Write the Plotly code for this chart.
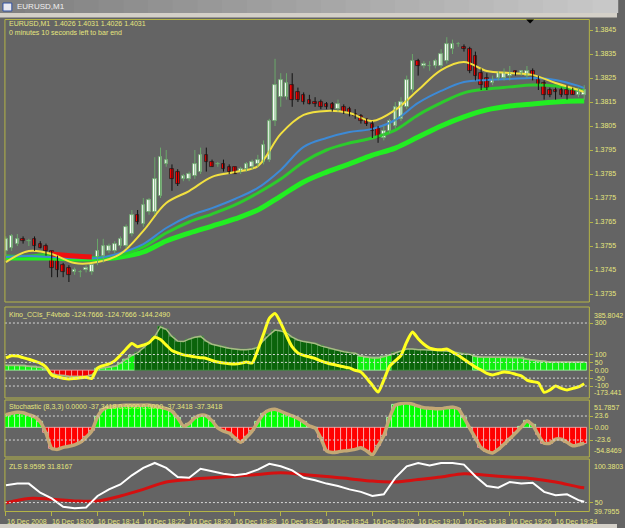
import plotly.graph_objects as go

W, H = 625, 528

# ---------------- data ----------------
bar_index = list(range(102))

time_tick_bars = [0, 8, 16, 24, 32, 40, 48, 56, 64, 72, 80, 88, 96]
time_tick_labels = ["16 Dec 2008", "16 Dec 18:06", "16 Dec 18:14", "16 Dec 18:22",
                    "16 Dec 18:30", "16 Dec 18:38", "16 Dec 18:46", "16 Dec 18:54",
                    "16 Dec 19:02", "16 Dec 19:10", "16 Dec 19:18", "16 Dec 19:26",
                    "16 Dec 19:34"]

price_tick_values = [1.3735, 1.3745, 1.3755, 1.3765, 1.3775, 1.3785,
                     1.3795, 1.3805, 1.3815, 1.3825, 1.3835, 1.3845]
price_tick_labels = ["1.3735", "1.3745", "1.3755", "1.3765", "1.3775", "1.3785",
                     "1.3795", "1.3805", "1.3815", "1.3825", "1.3835", "1.3845"]

candle_open = [1.3753, 1.3754, 1.3756, 1.3758, 1.3757, 1.3758, 1.3756, 1.3755, 1.3753, 1.3750,
               1.3747, 1.3746, 1.3744, 1.3744, 1.3745, 1.3744, 1.3748, 1.3751, 1.3753, 1.3753,
               1.3755, 1.3755, 1.3760, 1.3768, 1.3764, 1.3769, 1.3769, 1.3776, 1.3789, 1.3787,
               1.3786, 1.3783, 1.3783, 1.3784, 1.3786, 1.3793, 1.3790, 1.3789, 1.3789, 1.3788,
               1.3788, 1.3786, 1.3787, 1.3788, 1.3789, 1.3790, 1.3791, 1.3807, 1.3817, 1.3817,
               1.3822, 1.3819, 1.3818, 1.3816, 1.3815, 1.3815, 1.3814, 1.3814, 1.3812, 1.3813,
               1.3812, 1.3810, 1.3809, 1.3808, 1.3806, 1.3804, 1.3800, 1.3803, 1.3805, 1.3808,
               1.3813, 1.3820, 1.3832, 1.3830, 1.3830, 1.3830, 1.3830, 1.3832, 1.3837, 1.3839,
               1.3838, 1.3837, 1.3834, 1.3827, 1.3825, 1.3823, 1.3825, 1.3825, 1.3826, 1.3828,
               1.3827, 1.3826, 1.3828, 1.3825, 1.3823, 1.3820, 1.3820, 1.3820, 1.3820, 1.3820,
               1.3818, 1.3818]
candle_high = [1.3759, 1.3760, 1.3760, 1.3759, 1.3758, 1.3759, 1.3757, 1.3756, 1.3753, 1.3751,
               1.3748, 1.3747, 1.3746, 1.3745, 1.3747, 1.3747, 1.3758, 1.3758, 1.3756, 1.3757,
               1.3759, 1.3764, 1.3770, 1.3770, 1.3775, 1.3775, 1.3792, 1.3796, 1.3795, 1.3789,
               1.3787, 1.3785, 1.3786, 1.3795, 1.3796, 1.3796, 1.3791, 1.3790, 1.3791, 1.3789,
               1.3788, 1.3788, 1.3790, 1.3791, 1.3793, 1.3799, 1.3808, 1.3833, 1.3827, 1.3827,
               1.3827, 1.3821, 1.3819, 1.3818, 1.3817, 1.3816, 1.3815, 1.3815, 1.3816, 1.3814,
               1.3813, 1.3812, 1.3810, 1.3808, 1.3807, 1.3805, 1.3805, 1.3808, 1.3815, 1.3817,
               1.3826, 1.3835, 1.3833, 1.3832, 1.3832, 1.3833, 1.3837, 1.3842, 1.3841, 1.3840,
               1.3839, 1.3838, 1.3836, 1.3829, 1.3827, 1.3826, 1.3828, 1.3829, 1.3830, 1.3828,
               1.3828, 1.3830, 1.3829, 1.3826, 1.3824, 1.3821, 1.3821, 1.3821, 1.3822, 1.3821,
               1.3821, 1.3822]
candle_low = [1.3751, 1.3753, 1.3755, 1.3756, 1.3755, 1.3753, 1.3754, 1.3751, 1.3742, 1.3742,
              1.3742, 1.3740, 1.3743, 1.3742, 1.3744, 1.3743, 1.3747, 1.3748, 1.3752, 1.3752,
              1.3754, 1.3754, 1.3759, 1.3764, 1.3763, 1.3768, 1.3768, 1.3775, 1.3788, 1.3778,
              1.3780, 1.3782, 1.3782, 1.3783, 1.3785, 1.3786, 1.3788, 1.3788, 1.3786, 1.3785,
              1.3785, 1.3785, 1.3786, 1.3787, 1.3788, 1.3789, 1.3790, 1.3805, 1.3813, 1.3816,
              1.3813, 1.3815, 1.3814, 1.3814, 1.3813, 1.3812, 1.3812, 1.3811, 1.3811, 1.3810,
              1.3809, 1.3808, 1.3806, 1.3805, 1.3800, 1.3798, 1.3799, 1.3802, 1.3804, 1.3807,
              1.3812, 1.3819, 1.3826, 1.3829, 1.3828, 1.3829, 1.3829, 1.3831, 1.3835, 1.3838,
              1.3836, 1.3827, 1.3824, 1.3820, 1.3820, 1.3822, 1.3824, 1.3824, 1.3824, 1.3826,
              1.3826, 1.3825, 1.3824, 1.3820, 1.3816, 1.3817, 1.3816, 1.3817, 1.3816, 1.3818,
              1.3817, 1.3816]
candle_close = [1.3758, 1.3759, 1.3758, 1.3757, 1.3757, 1.3755, 1.3754, 1.3753, 1.3746, 1.3745,
                1.3744, 1.3743, 1.3745, 1.3744, 1.3746, 1.3747, 1.3753, 1.3755, 1.3755, 1.3756,
                1.3758, 1.3763, 1.3768, 1.3765, 1.3772, 1.3774, 1.3783, 1.3792, 1.3791, 1.3783,
                1.3781, 1.3784, 1.3785, 1.3789, 1.3793, 1.3790, 1.3788, 1.3789, 1.3787, 1.3786,
                1.3785, 1.3787, 1.3789, 1.3790, 1.3791, 1.3797, 1.3807, 1.3822, 1.3824, 1.3823,
                1.3816, 1.3816, 1.3815, 1.3814, 1.3814, 1.3813, 1.3813, 1.3812, 1.3814, 1.3811,
                1.3810, 1.3809, 1.3807, 1.3806, 1.3803, 1.3800, 1.3803, 1.3807, 1.3813, 1.3815,
                1.3824, 1.3832, 1.3830, 1.3831, 1.3830, 1.3832, 1.3835, 1.3839, 1.3839, 1.3839,
                1.3837, 1.3828, 1.3826, 1.3822, 1.3821, 1.3824, 1.3827, 1.3827, 1.3827, 1.3827,
                1.3828, 1.3828, 1.3826, 1.3822, 1.3818, 1.3818, 1.3819, 1.3818, 1.3818, 1.3818,
                1.3819, 1.3820]

ma_bars = [0, 4, 8, 12, 16, 20, 24, 28, 32, 36, 40, 44, 48, 52, 56, 60, 64, 68, 72, 76,
           80, 84, 88, 92, 96, 100, 101]
ma_yellow = [1.37483, 1.37529, 1.37517, 1.37479, 1.37483, 1.37517, 1.37613, 1.37729, 1.37779,
             1.37838, 1.37858, 1.37883, 1.38017, 1.38096, 1.38113, 1.38104, 1.38071, 1.38117,
             1.38200, 1.38283, 1.38317, 1.38279, 1.38271, 1.38263, 1.38229, 1.38200, 1.38192]
ma_blue = [1.37504, 1.37508, 1.37504, 1.37500, 1.37500, 1.37521, 1.37558, 1.37625, 1.37675,
           1.37708, 1.37746, 1.37792, 1.37867, 1.37963, 1.38000, 1.38025, 1.38038, 1.38075,
           1.38146, 1.38196, 1.38233, 1.38242, 1.38246, 1.38250, 1.38242, 1.38217, 1.38208]
ma_green = [1.37508, 1.37508, 1.37517, 1.37508, 1.37500, 1.37513, 1.37546, 1.37604, 1.37650,
            1.37683, 1.37721, 1.37771, 1.37829, 1.37900, 1.37950, 1.37979, 1.38000, 1.38033,
            1.38096, 1.38146, 1.38188, 1.38204, 1.38213, 1.38221, 1.38217, 1.38200, 1.38196]
ma_slow = [1.37500, 1.37500, 1.37500, 1.37496, 1.37496, 1.37504, 1.37525, 1.37571, 1.37604,
           1.37633, 1.37663, 1.37700, 1.37758, 1.37817, 1.37858, 1.37892, 1.37929, 1.37958,
           1.38004, 1.38050, 1.38088, 1.38117, 1.38133, 1.38142, 1.38150, 1.38154, 1.38154]
ma_slow_down_bars = [8, 12, 15]
ma_slow_down = [1.37517, 1.37508, 1.37504]

cci_hist = [30, 32, 30, 28, 25, 22, 18, 8, -20, -30,
            -35, -38, -40, -40, -38, -30, 10, 15, 20, 25,
            45, 70, 95, 110, 140, 175, 215, 275, 260, 215,
            185, 182, 198, 210, 215, 185, 165, 155, 148, 140,
            135, 130, 130, 135, 145, 190, 225, 255, 250, 237,
            210, 192, 182, 175, 170, 155, 145, 135, 125, 118,
            112, 108, 90, 82, 78, 78, 85, 97, 110, 120,
            135, 135, 130, 130, 128, 130, 128, 122, 117, 110,
            104, 101, 88, 84, 84, 84, 84, 84, 82, 82,
            80, 70, 65, 58, 55, 52, 52, 52, 52, 52,
            52, 52]
cci_line = [78, 92, 90, 80, 70, 58, 45, 21, -30, -42,
            -50, -55, -52, -48, -45, -52, 14, 30, 40, 60,
            95, 135, 170, 150, 160, 175, 210, 195, 160, 125,
            110, 98, 92, 85, 80, 75, 62, 52, 46, 42,
            40, 44, 52, 46, 130, 230, 330, 360, 300, 220,
            148, 110, 95, 85, 75, 60, 48, 38, 30, 22,
            15, 0, -11, -50, -95, -138, -62, 25, 60, 95,
            180, 243, 200, 165, 140, 132, 130, 135, 115, 95,
            70, 45, 20, 2, -20, -30, -20, -11, -15, -25,
            -35, -62, -72, -80, -140, -125, -100, -115, -125, -115,
            -106, -85]
cci_levels = [300, 100, 50, -50, -100]

stoch = [26, 29, 31, 30, 26, 22, 12, -10, -40, -42,
         -38, -36, -33, -28, -18, -6, 22, 37, 41, 43,
         44, 45, 45, 45, 45, 45, 43, 41, 38, 33,
         20, 4, 9, 20, 25, 24, 14, 0, -6, -10,
         -20, -28, -18, -6, 12, 28, 35, 37, 33, 28,
         24, 19, 12, 4, 0, -20, -45, -48, -47, -45,
         -44, -42, -39, -45, -53, -35, -15, 20, 45, 48,
         49, 47, 43, 40, 39, 38, 38, 40, 41, 38,
         20, 0, -20, -39, -46, -49, -42, -32, -21, -10,
         2, 14, 6, -14, -30, -30, -22, -22, -28, -35,
         -33, -30]
stoch_levels = [23.6, -23.6]

zls_white_bars = [0, 2, 4, 6, 8, 10, 12, 14, 16, 18, 20, 22, 24, 26, 28, 30, 32, 34, 36, 38,
                  40, 42, 44, 46, 48, 50, 52, 54, 56, 58, 60, 62, 64, 66, 68, 70, 72, 74, 76,
                  78, 80, 82, 84, 86, 88, 90, 92, 94, 96, 98, 100, 101]
zls_white = [71, 73, 73, 62, 55, 45, 43, 44, 58, 66, 72, 83, 92, 98, 92, 81, 80, 91, 88, 85,
             83, 85, 90, 97, 94, 89, 80, 77, 73, 70, 66, 63, 58, 60, 80, 94, 98, 95, 98,
             98, 96, 82, 70, 68, 75, 73, 74, 63, 59, 60, 53, 51]
zls_red = [49.5, 55, 54, 52, 52, 58, 66, 75, 78, 80, 82, 84, 86, 84, 81.5, 79, 76, 75, 78,
           81, 85, 83, 81, 79, 75, 69, 68]
zls_levels = [50]

# ---------------- style ----------------
BG = '#646464'
LINE = '#b4b446'
TXT = '#e6e67e'
FONT = 'Liberation Sans'


def fx(p):
    return p / W


def fy(p):
    return 1 - p / H


fig = go.Figure()

# main price panel: moving averages
fig.add_trace(go.Scatter(x=ma_bars, y=ma_slow, mode='lines', xaxis='x', yaxis='y',
                         line=dict(color='#22ee22', width=5, shape='spline'), hoverinfo='skip'))
fig.add_trace(go.Scatter(x=ma_bars, y=ma_green, mode='lines', xaxis='x', yaxis='y',
                         line=dict(color='#2ccc2c', width=3, shape='spline'), hoverinfo='skip'))
fig.add_trace(go.Scatter(x=ma_bars, y=ma_blue, mode='lines', xaxis='x', yaxis='y',
                         line=dict(color='#3d8ad6', width=2, shape='spline'), hoverinfo='skip'))
fig.add_trace(go.Scatter(x=ma_slow_down_bars, y=ma_slow_down, mode='lines', xaxis='x', yaxis='y',
                         line=dict(color='#ee1010', width=5, shape='spline'), hoverinfo='skip'))
fig.add_trace(go.Scatter(x=ma_bars, y=ma_yellow, mode='lines', xaxis='x', yaxis='y',
                         line=dict(color='#f2e040', width=2, shape='spline'), hoverinfo='skip'))

# candles: wicks then bodies
bull = [c >= o for o, c in zip(candle_open, candle_close)]
for is_bull, wick_col, fill_col, edge_col in [(True, '#6aa86a', '#ffffff', '#6aa86a'),
                                               (False, '#111111', '#ff0000', '#222222')]:
    wx, wy = [], []
    bx, bbase, bh = [], [], []
    for i in bar_index:
        if bull[i] != is_bull:
            continue
        wx += [i, i, None]
        wy += [candle_low[i], candle_high[i], None]
        bx.append(i)
        bbase.append(min(candle_open[i], candle_close[i]))
        bh.append(abs(candle_close[i] - candle_open[i]))
    fig.add_trace(go.Scatter(x=wx, y=wy, mode='lines', xaxis='x', yaxis='y',
                             line=dict(color=wick_col, width=1), hoverinfo='skip'))
    fig.add_trace(go.Bar(x=bx, y=bh, base=bbase, xaxis='x', yaxis='y', width=0.62,
                         marker=dict(color=fill_col, line=dict(color=edge_col, width=0.8)),
                         hoverinfo='skip'))

# CCI panel
cci_colors = ['#0a640a' if v > 100 else ('#10f010' if v >= 0 else '#f00000') for v in cci_hist]
cci_edges = ['#4e9a4e' if v > 100 else ('#b8ffb8' if v >= 0 else '#ffb0b0') for v in cci_hist]
fig.add_trace(go.Bar(x=bar_index, y=cci_hist, xaxis='x', yaxis='y2', width=1.0,
                     marker=dict(color=cci_colors, line=dict(color=cci_edges, width=0.7)),
                     hoverinfo='skip'))
fig.add_trace(go.Scatter(x=bar_index, y=cci_hist, mode='lines', xaxis='x', yaxis='y2',
                         line=dict(color='#a8bc84', width=1.5), hoverinfo='skip'))
fig.add_trace(go.Scatter(x=bar_index, y=cci_line, mode='lines', xaxis='x', yaxis='y2',
                         line=dict(color='#ffff20', width=3, shape='spline', smoothing=0.6),
                         hoverinfo='skip'))

# Stochastic panel
st_colors = ['#00ff00' if v >= 0 else '#ff0000' for v in stoch]
st_edges = ['#d8ffd8' if v >= 0 else '#ffc8c8' for v in stoch]
fig.add_trace(go.Bar(x=bar_index, y=stoch, xaxis='x', yaxis='y3', width=1.0,
                     marker=dict(color=st_colors, line=dict(color=st_edges, width=0.7)),
                     hoverinfo='skip'))
fig.add_trace(go.Scatter(x=bar_index, y=stoch, mode='lines', xaxis='x', yaxis='y3',
                         line=dict(color='#c4a874', width=3.5, shape='spline', smoothing=0.5),
                         hoverinfo='skip'))

# ZLS panel
fig.add_trace(go.Scatter(x=ma_bars, y=zls_red, mode='lines', xaxis='x', yaxis='y4',
                         line=dict(color='#d41010', width=3, shape='spline'), hoverinfo='skip'))
fig.add_trace(go.Scatter(x=zls_white_bars, y=zls_white, mode='lines', xaxis='x', yaxis='y4',
                         line=dict(color='#ffffff', width=2), hoverinfo='skip'))

axis_font = dict(family=FONT, size=7, color=TXT)
common_y = dict(side='right', anchor='x', showgrid=False, zeroline=False, showline=False,
                ticks='outside', ticklen=3, tickcolor=LINE, tickfont=axis_font, fixedrange=True)

fig.update_layout(
    width=W, height=H, margin=dict(l=0, r=0, t=0, b=0),
    paper_bgcolor=BG, plot_bgcolor=BG, showlegend=False, hovermode=False,
    barmode='overlay', bargap=0,
    xaxis=dict(domain=[fx(5), fx(597)], range=[-0.17, 101.9], anchor='y4',
               tickvals=time_tick_bars, ticktext=time_tick_labels, ticks='outside',
               ticklen=4, tickcolor=LINE, tickfont=axis_font, ticklabelshift=21,
               showgrid=False, zeroline=False, showline=False, fixedrange=True),
    yaxis=dict(domain=[fy(302), fy(20)], range=[1.3735 - 8 / 24000, 1.3845 + 10 / 24000],
               tickvals=price_tick_values, ticktext=price_tick_labels, **common_y),
    yaxis2=dict(domain=[fy(397.6), fy(309.5)], range=[-173.441, 385.8042],
                tickvals=[300, 100, 50, 0, -50, -100],
                ticktext=['300', '100', '50', '0.00', '-50', '-100'], **common_y),
    yaxis3=dict(domain=[fy(455.9), fy(401.7)], range=[-54.8469, 51.7857],
                tickvals=[23.6, 0, -23.6], ticktext=['23.6', '0.00', '-23.6'], **common_y),
    yaxis4=dict(domain=[fy(511), fy(461)], range=[39.7955, 100.3803],
                tickvals=[50], ticktext=['50'], **common_y),
)

shapes = []
for lv in cci_levels:
    shapes.append(dict(type='line', xref='x domain', yref='y2', x0=0, x1=1, y0=lv, y1=lv,
                       line=dict(color='#d8d8d8', width=1, dash='2px,2px')))
for lv in stoch_levels:
    shapes.append(dict(type='line', xref='x domain', yref='y3', x0=0, x1=1, y0=lv, y1=lv,
                       line=dict(color='#d8d8d8', width=1, dash='2px,2px')))
for lv in zls_levels:
    shapes.append(dict(type='line', xref='x domain', yref='y4', x0=0, x1=1, y0=lv, y1=lv,
                       line=dict(color='#d8d8d8', width=1, dash='2px,2px')))

for (t, b) in [(19.5, 302), (307, 398), (400, 457), (459, 511.5)]:
    shapes.append(dict(type='rect', xref='paper', yref='paper', x0=fx(5), x1=fx(597),
                       y0=fy(b), y1=fy(t), line=dict(color=LINE, width=1),
                       fillcolor='rgba(0,0,0,0)', layer='above'))

# window chrome: title bar with a horizontal gradient made of strips
n_strips = 25
for k in range(n_strips):
    g = int(128 + (200 - 128) * k / (n_strips - 1))
    shapes.append(dict(type='rect', xref='paper', yref='paper', x0=k / n_strips,
                       x1=(k + 1) / n_strips + 0.002, y0=fy(13), y1=1, line=dict(width=0),
                       fillcolor='rgb({0},{0},{0})'.format(g), layer='above'))
shapes.append(dict(type='rect', xref='paper', yref='paper', x0=0, x1=1, y0=fy(17.5), y1=fy(13),
                   line=dict(width=0), fillcolor='#d4d0c8', layer='above'))
shapes.append(dict(type='rect', xref='paper', yref='paper', x0=0, x1=1, y0=0, y1=fy(524),
                   line=dict(width=0), fillcolor='#d4d0c8', layer='above'))
shapes.append(dict(type='rect', xref='paper', yref='paper', x0=fx(3), x1=fx(12), y0=fy(11),
                   y1=fy(3), line=dict(color='#3050a0', width=1), fillcolor='#e8e8f0',
                   layer='above'))
shapes.append(dict(type='path', xref='paper', yref='paper',
                   path='M {} {} L {} {} L {} {} Z'.format(fx(533), fy(19.5), fx(541), fy(19.5),
                                                            fx(537), fy(23.5)),
                   fillcolor='#000000', line=dict(width=0), layer='above'))
fig.update_layout(shapes=shapes)

ann = []


def label(x, y, text, yref='paper', yanchor='middle', color=TXT, size=7):
    ann.append(dict(x=x, y=y, xref='paper', yref=yref, text=text, showarrow=False,
                    xanchor='left', yanchor=yanchor, font=dict(family=FONT, size=size, color=color)))


label(fx(7), fy(24), 'EURUSD,M1  1.4026 1.4031 1.4026 1.4031')
label(fx(7), fy(32.5), '0 minutes 10 seconds left to bar end')
label(fx(7), fy(315), 'Kino_CCIs_F4vbob -124.7666 -124.7666 -144.2490')
label(fx(7), fy(407), 'Stochastic (8,3,3) 0.0000 -37.3418 0.0000 0.0000 -37.3418 -37.3418')
label(fx(7), fy(466), 'ZLS 8.9595 31.8167')
label(fx(600), 385.8042, '385.8042', yref='y2', yanchor='top')
label(fx(600), -173.441, '-173.441', yref='y2', yanchor='bottom')
label(fx(600), 51.7857, '51.7857', yref='y3', yanchor='top')
label(fx(600), -54.8469, '-54.8469', yref='y3', yanchor='bottom')
label(fx(600), 100.3803, '100.3803', yref='y4', yanchor='top')
label(fx(600), fy(505.5), '39.7955', yanchor='top')
label(fx(15), fy(6.5), 'EURUSD,M1', color='#f0f0f0', size=8)
fig.update_layout(annotations=ann)

fig.write_html('out.html')
